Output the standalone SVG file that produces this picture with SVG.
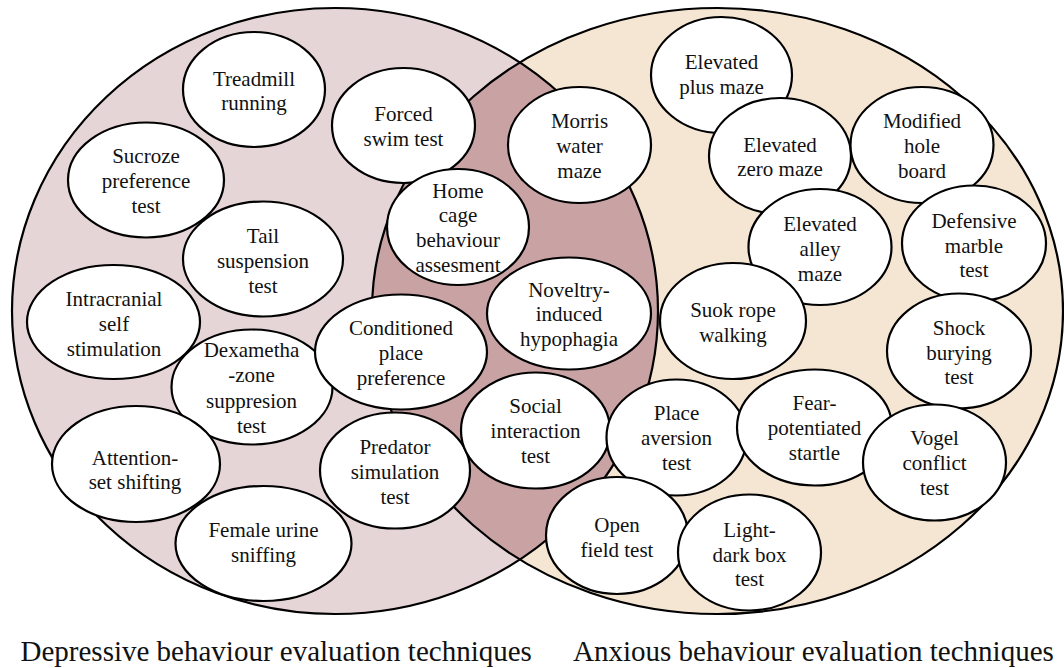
<svg xmlns="http://www.w3.org/2000/svg" width="1064" height="668" viewBox="0 0 1064 668">
  <style>
    .set { stroke: #000; stroke-width: 2.2; }
    .node ellipse { fill: #fff; stroke: #000; stroke-width: 2.2; }
    .node text { font-size: 21px; text-anchor: middle; fill: #111; }
    .title { font-size: 29px; fill: #111; }
  </style>
  <defs>
    <clipPath id="leftSetClip">
      <ellipse cx="335" cy="311" rx="323" ry="303"/>
    </clipPath>
  </defs>

  <!-- Two overlapping sets and their shared region -->
  <g id="sets">
    <ellipse cx="335" cy="311" rx="323" ry="303" fill="#e6d5d7"/>
    <ellipse cx="717.5" cy="311" rx="345.5" ry="303" fill="#f5e6d3"/>
    <ellipse cx="717.5" cy="311" rx="345.5" ry="303" fill="#c9a2a4" clip-path="url(#leftSetClip)"/>
    <ellipse class="set" cx="335" cy="311" rx="323" ry="303" fill="none"/>
    <ellipse class="set" cx="717.5" cy="311" rx="345.5" ry="303" fill="none"/>
  </g>

  <g font-family="'Liberation Serif', 'Times New Roman', 'DejaVu Serif', serif">
  <!-- Depressive behaviour techniques -->
  <g id="treadmill-running" class="node">
    <ellipse cx="254" cy="89.5" rx="71" ry="57.5"/>
    <text x="254" y="85.5">Treadmill</text>
    <text x="254" y="110">running</text>
  </g>
  <g id="forced-swim-test" class="node">
    <ellipse cx="403.5" cy="125.5" rx="71.5" ry="57.5"/>
    <text x="403.5" y="120.5">Forced</text>
    <text x="403.5" y="146">swim test</text>
  </g>
  <g id="sucroze-preference-test" class="node">
    <ellipse cx="146" cy="180" rx="78" ry="57.5"/>
    <text x="146" y="162.5">Sucroze</text>
    <text x="146" y="187.5">preference</text>
    <text x="146" y="212.5">test</text>
  </g>
  <g id="tail-suspension-test" class="node">
    <ellipse cx="263" cy="259" rx="80" ry="57.5"/>
    <text x="263" y="242.5">Tail</text>
    <text x="263" y="267.5">suspension</text>
    <text x="263" y="292.5">test</text>
  </g>
  <g id="home-cage-behaviour-assesment" class="node">
    <ellipse cx="458" cy="227" rx="71" ry="58"/>
    <text x="458" y="197.5">Home</text>
    <text x="458" y="222">cage</text>
    <text x="458" y="247">behaviour</text>
    <text x="458" y="272">assesment</text>
  </g>
  <g id="intracranial-self-stimulation" class="node">
    <ellipse cx="113.5" cy="322" rx="86.5" ry="57"/>
    <text x="114" y="306">Intracranial</text>
    <text x="114" y="331">self</text>
    <text x="114" y="356">stimulation</text>
  </g>
  <g id="dexamethazone-suppresion-test" class="node">
    <ellipse cx="252" cy="387" rx="80.5" ry="57.5"/>
    <text x="251.5" y="357">Dexametha</text>
    <text x="251.5" y="382">-zone</text>
    <text x="251.5" y="407.5">suppresion</text>
    <text x="251.5" y="432.5">test</text>
  </g>
  <g id="conditioned-place-preference" class="node">
    <ellipse cx="401" cy="352" rx="86" ry="57.5"/>
    <text x="401" y="335">Conditioned</text>
    <text x="401" y="360">place</text>
    <text x="401" y="385">preference</text>
  </g>
  <g id="attention-set-shifting" class="node">
    <ellipse cx="136" cy="464" rx="84" ry="58"/>
    <text x="135" y="465">Attention-</text>
    <text x="135" y="489">set shifting</text>
  </g>
  <g id="predator-simulation-test" class="node">
    <ellipse cx="395" cy="470.5" rx="75" ry="58"/>
    <text x="395" y="454">Predator</text>
    <text x="395" y="479">simulation</text>
    <text x="395" y="504">test</text>
  </g>
  <g id="female-urine-sniffing" class="node">
    <ellipse cx="263.5" cy="543.5" rx="88" ry="57.5"/>
    <text x="263.5" y="537">Female urine</text>
    <text x="263.5" y="562">sniffing</text>
  </g>

  <!-- Techniques shared by both sets -->
  <g id="morris-water-maze" class="node">
    <ellipse cx="579.5" cy="145" rx="71.5" ry="58"/>
    <text x="579.5" y="128">Morris</text>
    <text x="579.5" y="153">water</text>
    <text x="579.5" y="177.5">maze</text>
  </g>
  <g id="noveltry-induced-hypophagia" class="node">
    <ellipse cx="569" cy="313.5" rx="82" ry="56"/>
    <text x="569" y="296.5">Noveltry-</text>
    <text x="569" y="321">induced</text>
    <text x="569" y="345.5">hypophagia</text>
  </g>
  <g id="social-interaction-test" class="node">
    <ellipse cx="535.5" cy="430.5" rx="74.5" ry="58"/>
    <text x="535.5" y="413">Social</text>
    <text x="535.5" y="438">interaction</text>
    <text x="535.5" y="463">test</text>
  </g>

  <!-- Anxious behaviour techniques -->
  <g id="elevated-plus-maze" class="node">
    <ellipse cx="721.5" cy="75" rx="70.5" ry="58"/>
    <text x="721.5" y="68.5">Elevated</text>
    <text x="721.5" y="93.5">plus maze</text>
  </g>
  <g id="elevated-zero-maze" class="node">
    <ellipse cx="780" cy="156" rx="71" ry="58"/>
    <text x="780" y="151.5">Elevated</text>
    <text x="780" y="176">zero maze</text>
  </g>
  <g id="modified-hole-board" class="node">
    <ellipse cx="922" cy="145" rx="71.5" ry="58"/>
    <text x="922" y="128">Modified</text>
    <text x="922" y="153">hole</text>
    <text x="922" y="177.5">board</text>
  </g>
  <g id="elevated-alley-maze" class="node">
    <ellipse cx="820" cy="247" rx="71.5" ry="58"/>
    <text x="820" y="231">Elevated</text>
    <text x="820" y="256">alley</text>
    <text x="820" y="281">maze</text>
  </g>
  <g id="defensive-marble-test" class="node">
    <ellipse cx="974" cy="243.5" rx="72" ry="58"/>
    <text x="974" y="227.5">Defensive</text>
    <text x="974" y="252.5">marble</text>
    <text x="974" y="277">test</text>
  </g>
  <g id="suok-rope-walking" class="node">
    <ellipse cx="733" cy="321" rx="73" ry="58"/>
    <text x="733" y="316.5">Suok rope</text>
    <text x="733" y="341.5">walking</text>
  </g>
  <g id="shock-burying-test" class="node">
    <ellipse cx="959" cy="351" rx="72" ry="57.5"/>
    <text x="959" y="334.5">Shock</text>
    <text x="959" y="359.5">burying</text>
    <text x="959" y="384">test</text>
  </g>
  <g id="place-aversion-test" class="node">
    <ellipse cx="676.5" cy="437.5" rx="70" ry="58"/>
    <text x="676.5" y="420">Place</text>
    <text x="676.5" y="445">aversion</text>
    <text x="676.5" y="469.5">test</text>
  </g>
  <g id="fear-potentiated-startle" class="node">
    <ellipse cx="814.5" cy="427.5" rx="77.5" ry="58"/>
    <text x="814.5" y="410">Fear-</text>
    <text x="814.5" y="435">potentiated</text>
    <text x="814.5" y="460">startle</text>
  </g>
  <g id="vogel-conflict-test" class="node">
    <ellipse cx="934.5" cy="462.5" rx="71.5" ry="58"/>
    <text x="934.5" y="445">Vogel</text>
    <text x="934.5" y="470">conflict</text>
    <text x="934.5" y="495">test</text>
  </g>
  <g id="open-field-test" class="node">
    <ellipse cx="617" cy="535.5" rx="71" ry="58.5"/>
    <text x="617" y="532">Open</text>
    <text x="617" y="557">field test</text>
  </g>
  <g id="light-dark-box-test" class="node">
    <ellipse cx="749.5" cy="552.5" rx="71.5" ry="58"/>
    <text x="749.5" y="536.5">Light-</text>
    <text x="749.5" y="561.5">dark box</text>
    <text x="749.5" y="586">test</text>
  </g>

  <!-- Set captions -->
  <g id="captions">
    <text class="title" x="20.5" y="661">Depressive behaviour evaluation techniques</text>
    <text class="title" x="573" y="661">Anxious behaviour evaluation techniques</text>
  </g>
  </g>
</svg>
